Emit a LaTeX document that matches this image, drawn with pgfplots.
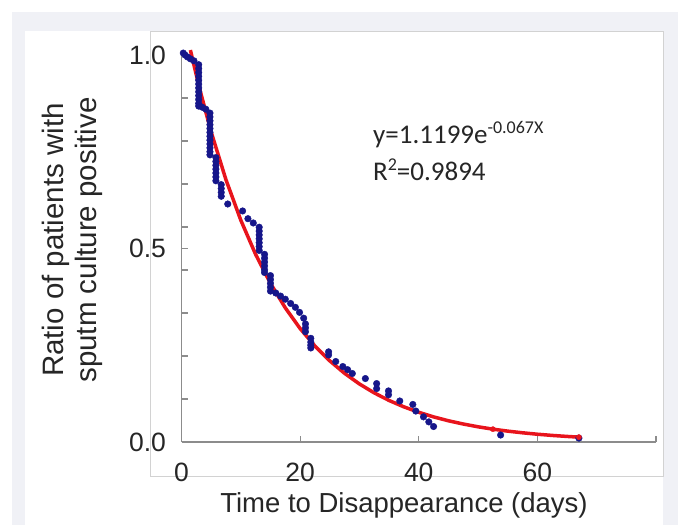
\documentclass[border=0pt]{standalone}
\usepackage{fontspec}
\setmainfont{Liberation Sans}
\newfontfamily\calibri{Carlito}
\usepackage{pgfplots}
\pgfplotsset{compat=1.18}
\definecolor{navy}{HTML}{16168A}
\definecolor{fitred}{HTML}{E8141C}
\definecolor{framegray}{HTML}{F0F1F6}
\definecolor{axisgray}{HTML}{8C8C8C}
\begin{document}
\begin{tikzpicture}
% page background and frame
\fill[white] (0pt,0pt) rectangle (678pt,-525pt);
\fill[framegray] (12pt,-12pt) rectangle (678pt,-525pt);
\fill[white] (25pt,-31pt) rectangle (663pt,-525pt);
\draw[gray!35, line width=1pt] (150pt,-31pt) rectangle (663pt,-476pt);

\begin{axis}[
    at={(181.5pt,-442pt)}, anchor=south west,
    scale only axis, width=474.5pt, height=387pt,
    xmin=0, xmax=80, ymin=0, ymax=1,
    axis x line*=bottom, axis y line*=left,
    axis line style={-, axisgray, line width=1.5pt},
    tick align=inside,
    tick style={axisgray, line width=1.2pt},
    major tick length=6pt, minor tick length=6pt,
    xtick={0,20,40,60,80}, xticklabels={0,20,40,60,},
    ytick={0,0.5,1}, yticklabels={0.0,0.5,1.0},
    minor ytick={0.1111,0.2222,0.3333,0.4444,0.5556,0.6667,0.7778,0.8889},
    /pgf/number format/assume math mode=true,
    tick label style={font=\fontsize{26.5}{31}\selectfont, text=black!85},
    xticklabel style={yshift=-17pt},
    yticklabel style={xshift=-12pt},
    clip=false,
    ]
    % observed ratio
    \addplot[only marks, mark=*, mark size=3.3pt, navy] coordinates {
    (0.3,1.005) (0.6,1.0) (1.0,0.995) (1.5,0.99) (2.1,0.985)
    (2.9,0.975) (2.9,0.965) (2.9,0.955) (2.9,0.945) (2.9,0.935) (2.9,0.925) (2.9,0.915)
    (2.9,0.905) (2.9,0.895) (2.9,0.885) (2.9,0.875) (2.9,0.868)
    (3.5,0.865) (4.1,0.86)
    (4.8,0.85) (4.8,0.84) (4.8,0.83) (4.8,0.82) (4.8,0.81) (4.8,0.80) (4.8,0.79)
    (4.8,0.78) (4.8,0.77) (4.8,0.76) (4.8,0.75) (4.8,0.742)
    (5.8,0.735) (5.8,0.725) (5.8,0.715) (5.8,0.705) (5.8,0.695) (5.8,0.685) (5.8,0.675)
    (6.7,0.665) (6.7,0.655) (6.7,0.645) (6.7,0.635)
    (7.8,0.615)
    (10.3,0.597) (11.2,0.577) (12.1,0.566)
    (13.1,0.555) (13.1,0.545) (13.1,0.535) (13.1,0.525) (13.1,0.515) (13.1,0.505) (13.1,0.495)
    (14.0,0.485) (14.0,0.475) (14.0,0.465) (14.0,0.455) (14.0,0.445) (14.0,0.438)
    (15.0,0.43) (15.0,0.42) (15.0,0.41) (15.0,0.40) (15.0,0.39)
    (15.9,0.385) (16.7,0.377) (17.5,0.369) (18.4,0.358) (19.2,0.348)
    (19.9,0.335) (20.6,0.32) (20.9,0.305) (20.9,0.295) (20.9,0.285)
    (21.8,0.268) (21.8,0.258) (21.8,0.25) (21.8,0.243)
    (24.8,0.233) (24.8,0.225) (26.0,0.208) (27.2,0.195) (28.0,0.187)
    (28.8,0.177) (31.0,0.164) (32.9,0.151) (32.9,0.138) (34.9,0.132)
    (34.9,0.122) (36.8,0.106) (39.0,0.097) (39.5,0.08) (40.8,0.065)
    (41.7,0.052) (42.5,0.04) (53.8,0.018) (67,0.01)
    };
    % exponential fit y=1.1199 e^{-0.067x}
    \addplot[fitred, line width=3.5pt, no marks] coordinates {
    (1.5,1.0128) (3,0.9160) (5,0.8011) (7.5,0.6775) (10,0.5731)
    (12.5,0.4847) (15,0.4099) (17.5,0.3467) (20,0.2932) (22.5,0.2480)
    (25,0.2097) (27.5,0.1774) (30,0.1500) (32.5,0.1269) (35,0.1073)
    (37.5,0.0908) (40,0.0768) (42.5,0.0649) (45,0.0549) (47.5,0.0465)
    (50,0.0393) (52.5,0.0332) (55,0.0281) (57.5,0.0238) (60,0.0201)
    (62.5,0.0170) (65,0.0144) (67,0.0126)
    };
    \addplot[only marks, mark=*, mark size=2.6pt, fitred] coordinates {
    (52.5,0.0332) (67,0.0126)
    };
\end{axis}

% equation of the fit
\node[anchor=base west, inner sep=0pt, font=\calibri\fontsize{27}{31}\selectfont, text=black!85]
    at (373pt,-143pt) {y=1.1199e\raisebox{10pt}{\fontsize{18}{18}\selectfont -0.067X}};
\node[anchor=base west, inner sep=0pt, font=\calibri\fontsize{27}{31}\selectfont, text=black!85]
    at (373pt,-180pt) {R\raisebox{10pt}{\fontsize{18}{18}\selectfont 2}=0.9894};

% axis titles
\node[font=\fontsize{27.5}{32}\selectfont, text=black!85] at (404pt,-505pt) {Time to Disappearance (days)};
\node[rotate=90, align=center, font=\fontsize{29.5}{33}\selectfont, text=black!85]
    at (72pt,-240pt) {Ratio of patients with\\sputm culture positive};
\end{tikzpicture}
\end{document}
